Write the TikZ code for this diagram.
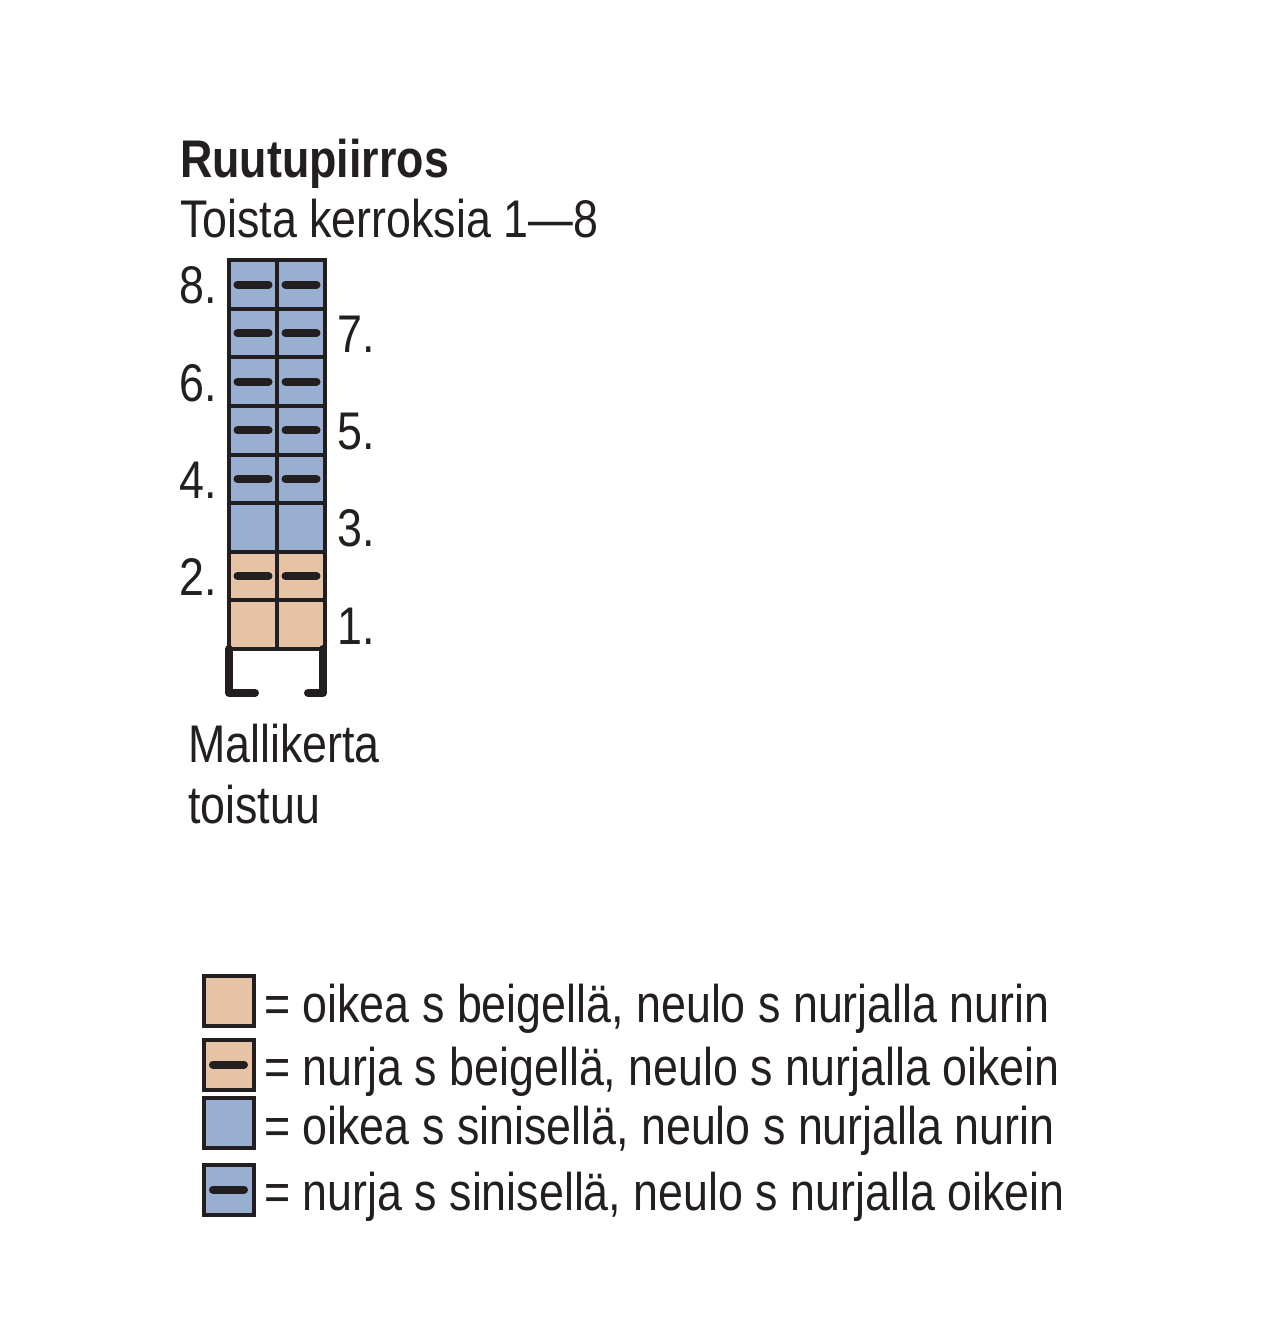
\documentclass[tikz,border=0pt]{standalone}
\usepackage{fontspec}
\setmainfont{Liberation Sans}[FakeStretch=0.845]
\usetikzlibrary{positioning}

\definecolor{ink}{RGB}{35,31,32}
\definecolor{beige}{RGB}{229,195,164}
\definecolor{sininen}{RGB}{153,175,209}

\begin{document}
\begin{tikzpicture}[
  x=1pt, y=-1pt,
  txt/.style={inner sep=0pt, text=ink, font=\fontsize{53}{62}\selectfont},
  cell/.style={draw=ink, line width=4pt, minimum width=48pt, minimum height=48.6pt,
               inner sep=0pt, outer sep=0pt},
  key/.style={draw=ink, line width=4pt, minimum size=50pt, inner sep=0pt, outer sep=0pt},
  nurja/.style={draw=ink, line width=8pt, line cap=round},
  bracket/.style={draw=ink, line width=8pt, line cap=round, line join=round}
]
  \useasboundingbox (0,0) rectangle (1280,1344);

  % otsikko
  \node[txt, anchor=base west, font=\fontsize{53}{62}\selectfont\bfseries] (title) at (180,177) {Ruutupiirros};
  \node[txt, anchor=base west] (repeat) at (180,237) {Toista kerroksia 1—8};

  % ruudukko: kerros / vari / nurja
  \foreach \r/\col/\nj in {1/beige/0, 2/beige/1, 3/sininen/0, 4/sininen/1,
                           5/sininen/1, 6/sininen/1, 7/sininen/1, 8/sininen/1} {
    \foreach \c in {0,1} {
      \node[cell, fill=\col] (c\r-\c) at (253+48*\c, 624.7-48.6*\r+48.6) {};
      \ifnum\nj=1
        \draw[nurja] ([xshift=-15.5pt]c\r-\c.center) -- ([xshift=15.5pt]c\r-\c.center);
      \fi
    }
  }

  % kerrosnumerot
  \foreach \r in {2,4,6,8}
    \node[txt, anchor=base east] (n\r) at ([xshift=-12pt, yshift=5pt]c\r-0.south west) {\r.};
  \foreach \r in {1,3,5,7}
    \node[txt, anchor=base west] (n\r) at ([xshift=12pt, yshift=5pt]c\r-1.south east) {\r.};

  % mallikerta
  \draw[bracket] (c1-0.south west) -- ([yshift=-44pt]c1-0.south west) -- ([xshift=26pt, yshift=-44pt]c1-0.south west);
  \draw[bracket] ([xshift=-2pt]c1-1.south east) -- ([xshift=-2pt, yshift=-44pt]c1-1.south east) -- ([xshift=-17pt, yshift=-44pt]c1-1.south east);
  \node[txt, anchor=base west] (rep1) at (188,762) {Mallikerta};
  \node[txt, anchor=base west] (rep2) at (188,823) {toistuu};

  % selitteet
  \node[key, fill=beige] (k1) at (228.5,1001) {};
  \node[key, fill=beige] (k2) at (228.5,1064.5) {};
  \node[key, fill=sininen] (k3) at (228.5,1123) {};
  \node[key, fill=sininen] (k4) at (228.5,1189.5) {};
  \draw[nurja] ([xshift=-15.5pt]k2.center) -- ([xshift=15.5pt]k2.center);
  \draw[nurja] ([xshift=-15.5pt]k4.center) -- ([xshift=15.5pt]k4.center);

  \node[txt, anchor=base west] (t1) at (264,1022) {= oikea s beigellä, neulo s nurjalla nurin};
  \node[txt, anchor=base west] (t2) at (264,1085.5) {= nurja s beigellä, neulo s nurjalla oikein};
  \node[txt, anchor=base west] (t3) at (264,1144) {= oikea s sinisellä, neulo s nurjalla nurin};
  \node[txt, anchor=base west] (t4) at (264,1210.5) {= nurja s sinisellä, neulo s nurjalla oikein};
\end{tikzpicture}
\end{document}
